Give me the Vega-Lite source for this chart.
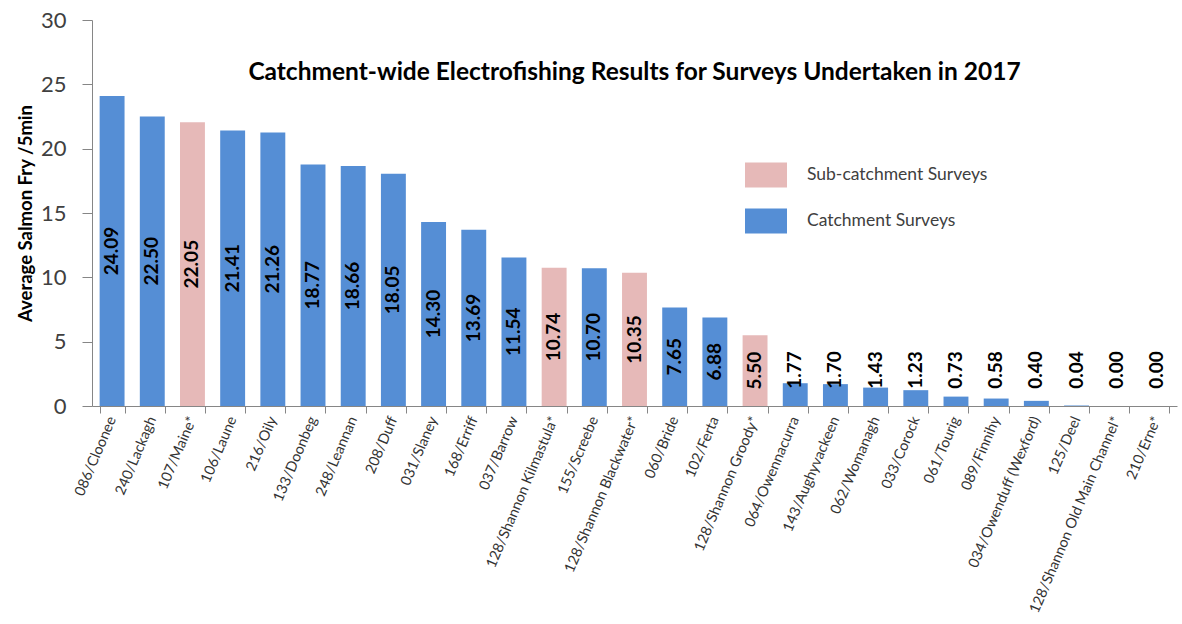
{
  "$schema": "https://vega.github.io/schema/vega-lite/v6.json",
  "autosize": "none",
  "width": 1085,
  "height": 386,
  "padding": {"left": 92, "top": 20, "right": 5, "bottom": 218},
  "background": "white",
  "config": {
    "view": {"stroke": null},
    "font": "Lato"
  },
  "title": {
    "text": "Catchment-wide Electrofishing Results for Surveys Undertaken in 2017",
    "font": "Lato",
    "fontSize": 24.5,
    "fontWeight": "bold",
    "color": "#000000",
    "anchor": "middle",
    "offset": -76
  },
  "data": {
    "values": [
      {"site": "086/Cloonee", "value": 24.09, "type": "Catchment Surveys"},
      {"site": "240/Lackagh", "value": 22.50, "type": "Catchment Surveys"},
      {"site": "107/Maine*", "value": 22.05, "type": "Sub-catchment Surveys"},
      {"site": "106/Laune", "value": 21.41, "type": "Catchment Surveys"},
      {"site": "216/Oily", "value": 21.26, "type": "Catchment Surveys"},
      {"site": "133/Doonbeg", "value": 18.77, "type": "Catchment Surveys"},
      {"site": "248/Leannan", "value": 18.66, "type": "Catchment Surveys"},
      {"site": "208/Duff", "value": 18.05, "type": "Catchment Surveys"},
      {"site": "031/Slaney", "value": 14.30, "type": "Catchment Surveys"},
      {"site": "168/Erriff", "value": 13.69, "type": "Catchment Surveys"},
      {"site": "037/Barrow", "value": 11.54, "type": "Catchment Surveys"},
      {"site": "128/Shannon Kilmastula*", "value": 10.74, "type": "Sub-catchment Surveys"},
      {"site": "155/Screebe", "value": 10.70, "type": "Catchment Surveys"},
      {"site": "128/Shannon Blackwater*", "value": 10.35, "type": "Sub-catchment Surveys"},
      {"site": "060/Bride", "value": 7.65, "type": "Catchment Surveys"},
      {"site": "102/Ferta", "value": 6.88, "type": "Catchment Surveys"},
      {"site": "128/Shannon Groody*", "value": 5.50, "type": "Sub-catchment Surveys"},
      {"site": "064/Owennacurra", "value": 1.77, "type": "Catchment Surveys"},
      {"site": "143/Aughyvackeen", "value": 1.70, "type": "Catchment Surveys"},
      {"site": "062/Womanagh", "value": 1.43, "type": "Catchment Surveys"},
      {"site": "033/Corock", "value": 1.23, "type": "Catchment Surveys"},
      {"site": "061/Tourig", "value": 0.73, "type": "Catchment Surveys"},
      {"site": "089/Finnihy", "value": 0.58, "type": "Catchment Surveys"},
      {"site": "034/Owenduff (Wexford)", "value": 0.40, "type": "Catchment Surveys"},
      {"site": "125/Deel", "value": 0.04, "type": "Catchment Surveys"},
      {"site": "128/Shannon Old Main Channel*", "value": 0.00, "type": "Sub-catchment Surveys"},
      {"site": "210/Erne*", "value": 0.00, "type": "Sub-catchment Surveys"}
    ]
  },
  "encoding": {
    "x": {
      "field": "site",
      "type": "nominal",
      "sort": null,
      "scale": {"paddingInner": 0.38, "paddingOuter": 0.19},
      "axis": {
        "title": null,
        "labelAngle": -67,
        "labelAlign": "right",
        "labelBaseline": "middle",
        "labelFont": "Lato",
        "labelFontSize": 14.5,
        "labelColor": "#333333",
        "labelPadding": 4,
        "tickBand": "extent",
        "tickSize": 7,
        "tickColor": "#868686",
        "domainColor": "#868686",
        "labelLimit": 300
      }
    }
  },
  "layer": [
    {
      "mark": {"type": "bar"},
      "encoding": {
        "y": {
          "field": "value",
          "type": "quantitative",
          "scale": {"domain": [0, 30], "nice": false},
          "axis": {
            "title": "Average Salmon Fry /5min",
            "titleFont": "Lato",
            "titleFontSize": 18.5,
            "titleFontWeight": "bold",
            "titleColor": "#000000",
            "titlePadding": 5,
            "values": [0, 5, 10, 15, 20, 25, 30],
            "labelFont": "Lato",
            "labelFontSize": 22,
            "labelColor": "#404040",
            "labelPadding": 16,
            "tickSize": 10,
            "tickColor": "#868686",
            "domainColor": "#868686",
            "grid": false
          }
        },
        "color": {
          "field": "type",
          "type": "nominal",
          "scale": {
            "domain": ["Sub-catchment Surveys", "Catchment Surveys"],
            "range": ["#E6B9B8", "#558ED5"]
          },
          "legend": {
            "title": null,
            "orient": "none",
            "legendX": 653,
            "legendY": 134,
            "symbolType": "M-1,-0.6L1,-0.6L1,0.6L-1,0.6Z",
            "symbolSize": 1764,
            "symbolStrokeWidth": 0,
            "labelFont": "Lato",
            "labelFontSize": 17.5,
            "labelColor": "#404040",
            "labelOffset": 20,
            "labelLimit": 400,
            "rowPadding": 12
          }
        }
      }
    },
    {
      "transform": [{"filter": "datum.value >= 5"}],
      "mark": {"type": "text", "angle": 270, "align": "center", "baseline": "middle", "font": "Lato", "fontSize": 19, "fontWeight": "bold", "color": "#000000"},
      "encoding": {
        "y": {"field": "value", "type": "quantitative", "scale": {"domain": [0, 60], "nice": false}, "axis": null},
        "text": {"field": "value", "type": "quantitative", "format": ".2f"}
      }
    },
    {
      "transform": [{"filter": "datum.value < 5"}],
      "mark": {"type": "text", "angle": 270, "align": "center", "baseline": "middle", "font": "Lato", "fontSize": 19, "fontWeight": "bold", "color": "#000000"},
      "encoding": {
        "y": {"datum": 5.6, "type": "quantitative", "scale": {"domain": [0, 60], "nice": false}, "axis": null},
        "text": {"field": "value", "type": "quantitative", "format": ".2f"}
      }
    }
  ],
  "resolve": {"scale": {"y": "independent"}}
}
